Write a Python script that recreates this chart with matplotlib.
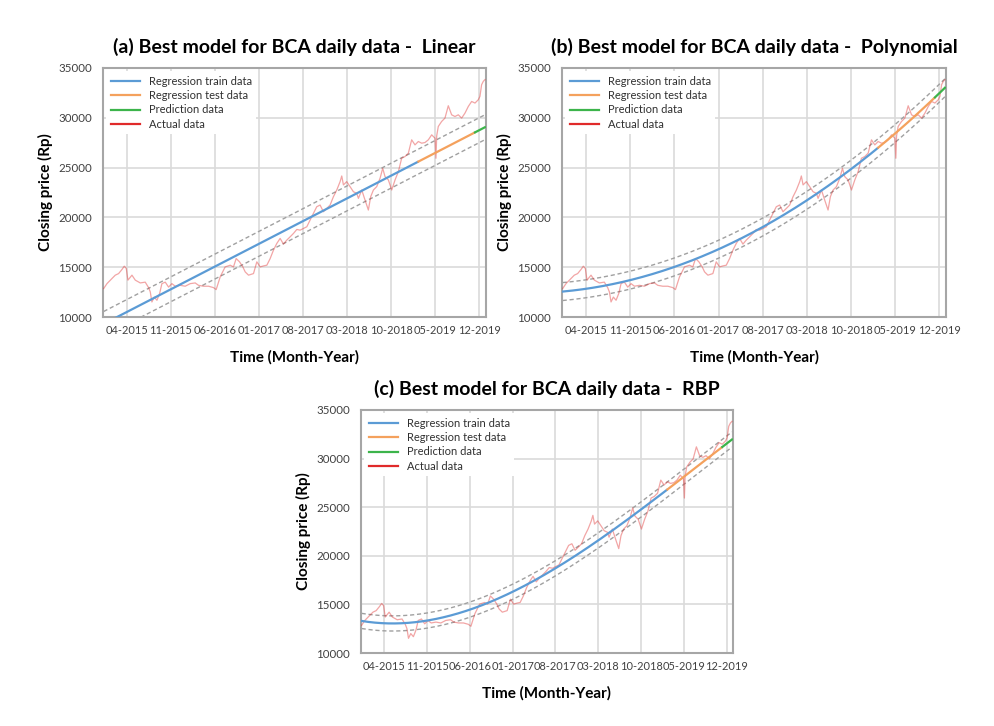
import numpy as np
import matplotlib
matplotlib.use("Agg")
import matplotlib.pyplot as plt
from matplotlib.lines import Line2D

plt.rcParams['font.family'] = ['Lato', 'DejaVu Sans']

# ---- actual closing price, x in months since Jan 2015
actual_month = [0.0, 0.53, 1.32, 1.85, 2.38, 2.91, 3.28, 3.60, 3.86, 4.50, 5.03, 5.82, 6.61, 7.14, 7.41,
                7.67, 8.04, 8.47, 8.89, 9.26, 9.79, 10.32, 10.85, 11.38, 12.17, 12.96, 13.76, 14.55, 15.08,
                15.87, 16.67, 17.46, 17.88, 18.52, 19.31, 20.11, 20.63, 21.06, 21.59, 22.12, 22.49, 23.02,
                23.81, 24.34, 24.87, 25.40, 25.93, 26.46, 26.98, 27.51, 28.04, 28.57, 29.10, 29.63, 30.16,
                30.69, 31.22, 31.75, 32.28, 32.80, 33.33, 33.86, 34.39, 34.92, 35.45, 35.98, 36.51, 37.04,
                37.57, 37.83, 38.10, 38.62, 39.15, 39.68, 40.21, 40.48, 41.01, 41.53, 42.06, 42.43, 42.86,
                43.39, 43.92, 44.34, 44.71, 45.24, 45.77, 46.30, 46.83, 47.35, 47.88, 48.41, 48.94, 49.47,
                50.00, 50.53, 51.06, 51.59, 52.12, 52.65, 52.80, 52.92, 53.17, 53.70, 54.23, 54.76, 55.29,
                55.82, 56.35, 56.88, 57.41, 57.94, 58.47, 59.00, 59.52, 59.79, 60.05, 60.32, 60.58]
actual_price = [12850, 13350, 13860, 14200, 14360, 14770, 15100, 14870, 13700, 14200, 13700, 13420, 13500,
                12950, 12520, 11510, 12000, 11680, 12350, 13350, 13500, 13000, 13350, 13090, 13180, 13090,
                13350, 13420, 13180, 13090, 13090, 12950, 12750, 14030, 15030, 15200, 15030, 15870, 15540,
                15030, 14530, 14200, 14360, 15540, 15030, 15130, 15200, 15870, 16710, 17380, 17890, 17320,
                17720, 18050, 18390, 18790, 18720, 18890, 19060, 19730, 20400, 21070, 21240, 20570, 20900,
                21240, 22080, 22750, 23590, 24160, 23260, 23590, 23090, 22580, 22420, 21910, 22750, 21740,
                20740, 22080, 22750, 23090, 23930, 24930, 24090, 23760, 22750, 23760, 24600, 25940, 26110,
                26440, 27790, 27280, 27620, 27450, 27520, 27790, 28290, 27950, 25940, 28200, 29130, 29630,
                29970, 31210, 30300, 30130, 30300, 29970, 30470, 31140, 31640, 31480, 31810, 32150, 33320,
                33660, 33830]

# ---- model curves (month, value) and band half widths
linear_month = [3.7, 17.7, 31.7, 45.7, 59.7]
linear_value = [10500, 15080, 19640, 24200, 28760]
linear_band = 1250

poly_month = [0.0, 17.8, 24.8, 31.8, 38.8, 45.8, 52.8, 60.7]
poly_value = [12580, 15030, 16780, 19060, 21740, 24930, 28620, 32990]
poly_band = 900

rbp_month = [0.0, 3.55, 7.4, 10.9, 17.9, 24.9, 31.9, 38.9, 45.9, 52.9, 60.9]
rbp_value = [13250, 13110, 13110, 13350, 14550, 16270, 18850, 21600, 24860, 28300, 32080]
rbp_band = 780

train_end = 50.0
test_end = 59.0

tick_labels = ['04-2015', '11-2015', '06-2016', '01-2017', '08-2017', '03-2018', '10-2018', '05-2019', '12-2019']
tick_pos = [3.7 + 7 * i for i in range(len(tick_labels))]

titles = ['(a) Best model for BCA daily data -  Linear',
          '(b) Best model for BCA daily data -  Polynomial',
          '(c) Best model for BCA daily data -  RBP']

C_TRAIN = '#5b9bd5'
C_TEST = '#f4a15d'
C_PRED = '#3cb44b'
C_ACT = '#e02a2a'

fig = plt.figure(figsize=(9.94, 7.26), dpi=100)
W, H = 994, 726
def ax_at(l, r, t, b):
    return fig.add_axes([l / W, 1 - b / H, (r - l) / W, (b - t) / H])

axes = [ax_at(103, 486, 68, 317), ax_at(562, 946, 68, 317), ax_at(361, 733, 410, 653)]
models = [(linear_month, linear_value, 1, linear_band),
          (poly_month, poly_value, 2, poly_band),
          (rbp_month, rbp_value, 3, rbp_band)]

xs = np.linspace(actual_month[0], actual_month[-1], 500)
for ax, title, (mm, mv, deg, band) in zip(axes, titles, models):
    coef = np.polyfit(mm, mv, deg)
    ys = np.polyval(coef, xs)
    ax.plot(actual_month, actual_price, color=C_ACT, lw=0.9, alpha=0.42, zorder=3)
    tr = xs <= train_end
    te = (xs >= train_end) & (xs <= test_end)
    pr = xs >= test_end
    ax.plot(xs[tr], ys[tr], color=C_TRAIN, lw=1.6, zorder=4)
    ax.plot(xs[te], ys[te], color=C_TEST, lw=1.6, zorder=4)
    ax.plot(xs[pr], ys[pr], color=C_PRED, lw=1.6, zorder=4)
    ax.plot(xs, ys + band, color='#a0a0a0', lw=1.0, ls=(0, (3, 2)), zorder=2)
    ax.plot(xs, ys - band, color='#a0a0a0', lw=1.0, ls=(0, (3, 2)), zorder=2)

    ax.set_xlim(-0.1, 60.75)
    ax.set_ylim(10000, 35000)
    ax.set_yticks(range(10000, 35001, 5000))
    ax.set_xticks(tick_pos)
    ax.set_xticklabels(tick_labels)
    ax.tick_params(axis='y', length=0, labelsize=8.3, labelcolor='#404040', pad=8)
    ax.tick_params(axis='x', length=0, labelsize=7.9, labelcolor='#404040', pad=6)
    ax.grid(True, color='#dadada', lw=1.2)
    ax.set_axisbelow(True)
    for s in ax.spines.values():
        s.set_color('#a6a6a6')
        s.set_linewidth(1.5)
    ax.set_title(title, fontsize=14, fontweight='bold', pad=11)
    ax.set_ylabel('Closing price (Rp)', fontsize=11, fontweight='bold', labelpad=4)
    ax.set_xlabel('Time (Month-Year)', fontsize=11, fontweight='bold', labelpad=10)

    handles = [Line2D([], [], color=C_TRAIN, lw=1.6), Line2D([], [], color=C_TEST, lw=1.6),
               Line2D([], [], color=C_PRED, lw=1.6), Line2D([], [], color=C_ACT, lw=1.6)]
    leg = ax.legend(handles, ['Regression train data', 'Regression test data', 'Prediction data', 'Actual data'],
                    loc='upper left', fontsize=8, frameon=True, framealpha=1, edgecolor='none',
                    facecolor='white', handlelength=2.6, handletextpad=0.8, labelspacing=0.3,
                    borderaxespad=0.3, fancybox=False)
    leg.set_zorder(10)
    for t in leg.get_texts():
        t.set_color('#303030')

fig.savefig('out.png', dpi=100, facecolor='white')
